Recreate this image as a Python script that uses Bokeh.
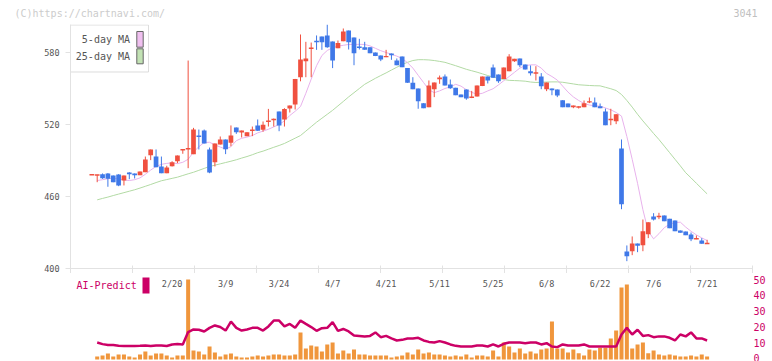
from bokeh.plotting import figure
from bokeh.models import Range1d, FixedTicker
from bokeh.layouts import column
from bokeh.core.properties import value
from bokeh.embed import file_html
from bokeh.resources import INLINE

NaN = float("nan")

# ---- daily data (one entry per trading day, oldest first) ----
open_ = [
    478.1, 477.8, 478.6, 479.2, 477.5, 478.3, 473.3, 480.0, 479.2, 477.8,
    480.3, 494.4, 493.3, 485.0, 479.4, 485.3, 489.4, 498.6, 499.4, 495.3,
    510.6, 515.0, 499.2, 488.6, 503.3, 507.5, 504.7, 517.5, 513.3, 510.3,
    514.7, 519.2, 515.6, 522.2, 523.9, 530.8, 524.2, 533.3, 536.7, 559.4,
    572.8, 583.3, 589.7, 593.3, 594.2, 589.2, 583.6, 589.4, 598.3, 592.5,
    585.0, 584.4, 584.4, 580.0, 577.5, 576.1, 579.2, 573.3, 576.7, 567.0,
    554.7, 550.0, 537.8, 534.4, 549.4, 557.8, 560.0, 553.3, 550.6, 545.0,
    549.2, 542.0, 543.3, 552.0, 560.0, 567.5, 561.7, 558.0, 564.4, 572.8,
    575.0, 570.0, 564.4, 562.2, 560.0, 549.4, 550.0, 549.2, 540.3, 537.5,
    534.4, 533.9, 534.4, 538.3, 538.3, 535.3, 530.8, 523.9, 522.8, 500.0,
    414.2, 414.4, 420.8, 419.4, 428.6, 443.3, 442.8, 444.2, 441.4, 440.0,
    431.7, 430.8, 428.3, 424.4, 423.3, 420.6,
]
high = [
    478.1, 478.1, 479.2, 479.5, 477.5, 478.6, 477.5, 480.3, 479.2, 480.8,
    493.3, 499.2, 499.2, 493.3, 485.6, 489.4, 494.2, 499.4, 573.3, 517.2,
    515.8, 515.8, 500.8, 504.2, 510.0, 507.5, 519.2, 517.5, 515.0, 513.6,
    518.3, 524.2, 522.5, 533.0, 525.0, 530.8, 533.6, 535.8, 558.0, 595.0,
    588.9, 588.3, 594.2, 593.3, 603.3, 589.2, 590.0, 600.0, 598.3, 592.5,
    591.4, 588.9, 584.4, 580.0, 577.5, 582.2, 579.2, 575.0, 576.7, 567.0,
    559.4, 550.0, 537.8, 556.7, 555.0, 560.8, 561.7, 557.5, 550.6, 545.0,
    549.2, 548.0, 552.5, 560.0, 560.0, 570.0, 561.7, 567.5, 578.6, 574.7,
    575.0, 570.0, 569.2, 568.6, 562.8, 555.0, 550.0, 549.2, 540.3, 537.5,
    535.8, 535.3, 540.0, 542.5, 542.5, 537.5, 533.3, 533.1, 528.6, 507.5,
    419.2, 426.7, 420.8, 440.8, 438.6, 446.1, 446.4, 444.2, 441.4, 440.0,
    431.7, 430.8, 430.0, 427.5, 425.3, 423.9,
]
low = [
    478.1, 471.9, 474.7, 468.1, 471.9, 468.6, 469.2, 474.4, 475.0, 477.8,
    480.3, 490.3, 484.4, 479.4, 479.4, 485.0, 487.8, 495.6, 483.6, 495.3,
    499.2, 504.2, 479.4, 485.0, 503.3, 495.3, 501.9, 512.2, 509.2, 510.3,
    510.3, 514.7, 514.0, 518.3, 518.3, 514.4, 518.3, 530.0, 532.5, 556.0,
    559.4, 559.4, 582.2, 582.2, 583.9, 567.0, 583.6, 589.4, 582.5, 569.4,
    582.5, 582.2, 579.4, 577.0, 572.8, 576.1, 573.9, 569.4, 567.8, 554.7,
    549.4, 533.1, 533.6, 534.4, 542.8, 553.9, 552.5, 549.7, 544.4, 542.8,
    540.6, 542.0, 543.3, 552.0, 554.2, 558.9, 554.7, 558.0, 564.4, 572.2,
    567.8, 565.8, 560.8, 556.7, 549.4, 547.8, 544.4, 542.8, 534.4, 534.4,
    533.6, 533.3, 534.4, 537.8, 534.4, 533.6, 519.4, 519.4, 520.3, 449.4,
    406.1, 411.1, 413.6, 414.4, 425.3, 440.0, 441.1, 439.4, 433.6, 431.1,
    429.7, 427.8, 422.8, 424.4, 420.6, 420.6,
]
close = [
    478.1, 478.1, 475.3, 474.7, 471.9, 469.2, 477.5, 478.6, 477.8, 480.8,
    490.8, 499.2, 484.4, 479.4, 484.2, 488.6, 494.2, 499.4, 500.3, 515.8,
    509.7, 504.2, 480.0, 504.2, 507.5, 499.4, 510.8, 513.6, 515.0, 513.6,
    515.8, 514.7, 519.7, 523.3, 524.4, 519.2, 533.0, 535.8, 558.0, 574.2,
    575.0, 583.9, 588.6, 588.6, 584.4, 573.3, 588.0, 597.5, 588.6, 579.4,
    583.9, 582.2, 579.4, 577.0, 574.2, 577.0, 577.8, 569.4, 567.8, 554.7,
    549.4, 539.4, 533.6, 552.5, 555.0, 559.2, 552.5, 550.3, 544.4, 542.8,
    541.7, 543.3, 552.5, 560.0, 556.7, 558.9, 556.1, 567.5, 576.7, 574.7,
    569.4, 565.8, 562.8, 563.6, 551.9, 555.0, 548.6, 544.2, 534.4, 534.4,
    535.8, 535.3, 537.8, 539.4, 534.4, 533.6, 519.4, 524.4, 528.6, 453.6,
    410.3, 420.8, 418.9, 431.1, 438.6, 440.8, 443.9, 439.4, 433.6, 431.1,
    429.7, 427.8, 424.4, 425.3, 420.6, 421.1,
]
ma5 = [
    NaN, 473.3, 474.0, 474.8, 475.3, 474.6, 473.8, 473.3, 474.0, 475.5,
    478.5, 482.0, 485.0, 486.8, 487.6, 488.0, 487.4, 488.5, 491.0, 497.0,
    501.5, 505.0, 505.2, 503.0, 501.2, 499.5, 501.5, 506.5, 508.5, 509.5,
    510.8, 513.0, 514.5, 516.0, 518.0, 520.0, 523.0, 527.5, 531.0, 535.0,
    546.0, 557.8, 569.0, 577.5, 581.7, 584.0, 585.3, 586.0, 586.7, 586.7,
    586.8, 586.7, 585.5, 583.5, 581.5, 580.0, 578.5, 577.0, 575.0, 571.5,
    567.0, 561.0, 555.0, 549.0, 546.5, 548.0, 550.0, 551.3, 553.5, 552.0,
    549.0, 546.8, 545.2, 546.0, 548.0, 549.8, 553.0, 556.5, 560.0, 563.5,
    567.0, 569.0, 569.7, 569.7, 567.0, 562.5, 560.0, 557.0, 552.0, 547.0,
    543.0, 540.0, 537.5, 536.2, 535.6, 535.3, 533.8, 532.2, 530.0, 527.0,
    510.0, 491.0, 471.0, 449.0, 431.0, 424.7, 429.0, 434.0, 437.0, 438.2,
    438.6, 434.5, 431.0, 428.0, 425.5, 423.3,
]
ma25 = [
    NaN, 457.2, 458.4, 459.5, 460.8, 462.0, 463.2, 464.4, 465.6, 467.0,
    468.5, 470.0, 471.6, 473.1, 474.1, 475.1, 476.1, 477.5, 478.9, 480.2,
    481.8, 483.4, 485.0, 486.1, 487.2, 488.3, 489.4, 490.6, 492.0, 493.3,
    494.8, 496.5, 497.8, 499.4, 501.0, 502.5, 504.2, 506.4, 508.6, 510.8,
    514.5, 518.2, 521.9, 525.2, 528.5, 531.8, 535.5, 539.2, 543.0, 546.5,
    550.0, 553.5, 556.0, 558.5, 560.8, 563.0, 565.4, 567.7, 570.0, 571.8,
    573.3, 574.0, 574.0, 573.8, 573.3, 572.6, 571.8, 570.4, 569.0, 567.5,
    566.0, 564.8, 563.6, 562.2, 560.8, 559.5, 558.5, 557.5, 556.8, 556.6,
    556.4, 556.1, 555.4, 555.0, 555.2, 555.4, 555.5, 555.5, 555.2, 554.5,
    553.8, 553.1, 552.8, 552.5, 552.3, 552.2, 551.0, 549.8, 548.3, 545.0,
    540.0, 534.5, 528.5, 523.0, 517.8, 512.5, 507.5, 502.0, 496.5, 491.0,
    485.5, 479.8, 475.5, 471.0, 466.6, 462.2,
]
volume = [
    0, 9, 12, 18, 9, 15, 15, 9, 6, 15,
    24, 12, 18, 18, 12, 6, 12, 12, 240, 27,
    24, 15, 39, 21, 9, 15, 18, 9, 6, 6,
    9, 12, 9, 12, 15, 15, 12, 12, 15, 81,
    33, 42, 39, 24, 45, 51, 18, 27, 18, 30,
    15, 15, 12, 12, 12, 12, 6, 9, 12, 21,
    15, 30, 18, 21, 15, 15, 12, 9, 12, 9,
    15, 6, 12, 12, 9, 27, 9, 51, 39, 21,
    33, 18, 24, 18, 30, 33, 114, 33, 33, 21,
    30, 19, 12, 30, 27, 35, 35, 63, 87, 216,
    225, 33, 45, 51, 19, 27, 15, 12, 15, 12,
    9, 9, 12, 9, 15, 9,
]
ai_predict = [
    NaN, 10.1, 9.1, 8.6, 8.5, 8.0, 7.9, 7.9, 7.9, 8.0,
    8.2, 7.9, 8.2, 8.2, 7.9, 8.9, 9.1, 8.9, 16.7, 18.4,
    18.2, 17.1, 19.4, 20.9, 19.9, 17.7, 23.4, 19.4, 17.7, 18.4,
    19.4, 19.4, 17.7, 20.3, 24.0, 24.0, 20.3, 21.9, 19.4, 24.0,
    21.9, 19.9, 17.5, 19.2, 19.4, 23.0, 17.5, 18.7, 17.1, 14.6,
    14.3, 14.0, 14.3, 16.5, 13.5, 14.3, 12.7, 11.4, 11.8, 12.7,
    12.7, 13.1, 11.4, 10.5, 10.1, 11.0, 10.1, 8.9, 8.0, 7.6,
    7.6, 7.6, 8.2, 8.2, 7.6, 8.9, 7.6, 9.3, 10.1, 10.1,
    10.1, 9.7, 10.1, 10.1, 8.9, 9.7, 7.6, 7.2, 8.9, 8.2,
    8.2, 8.2, 8.9, 7.6, 7.6, 7.6, 7.6, 7.6, 7.6, 15.2,
    19.4, 15.2, 18.2, 14.3, 14.8, 13.5, 14.0, 14.0, 13.1, 11.4,
    15.2, 14.0, 16.5, 12.7, 12.7, 11.4,
]
date_labels = ["2/20", "3/9", "3/24", "4/7", "4/21", "5/11",
               "5/25", "6/8", "6/22", "7/6", "7/21"]
date_label_days = [15, 25, 35, 45, 55, 65, 75, 85, 95, 105, 115]
price_ticks = [400, 460, 520, 580]
ai_ticks = [0, 10, 20, 30, 40, 50]

days = list(range(len(close)))

# ---- styling ----
MONO = "DejaVu Sans Mono"
UP, DOWN = "#f0503f", "#3f78e8"
MA5_COLOR, MA25_COLOR = "#e8b2ec", "#b2daa4"
VOL_COLOR, AI_COLOR = "#f0963c", "#cc0066"
AXIS_COLOR = "#e2e2e2"

# ---- geometry (screen pixels) ----
WIDTH = 772
HEADER_PX = 24
LEFT_PX, RIGHT_PX = 70, 752
TOP_PX, BASE_PX = 24, 268
PX_PER_DAY = 5.35
PX_PER_YEN = 1.2
FIRST_DAY_PX = 91.35
x_start = (LEFT_PX - FIRST_DAY_PX) / PX_PER_DAY
x_end = (RIGHT_PX - FIRST_DAY_PX) / PX_PER_DAY
y_low = 400.0
y_high = y_low + (BASE_PX - TOP_PX) / PX_PER_YEN


def sx(px):
    return x_start + (px - LEFT_PX) / PX_PER_DAY


def sy(py):
    return y_low + (BASE_PX - py) / PX_PER_YEN


# lower panel: AI-Predict scale (right axis) and volume scale
LOW_TOP_PX, LOW_BOTTOM_PX = 273, 361
AI_ZERO_PX, AI_PX_PER_UNIT = 358, 1.58
VOL_ZERO_PX, VOL_PER_PX = 359, 3.0


def ay(py):
    return (AI_ZERO_PX - py) / AI_PX_PER_UNIT


def bare(fig):
    fig.grid.visible = False
    fig.outline_line_color = None
    fig.background_fill_color = "white"
    fig.border_fill_color = "white"


# ---- header strip: copyright and stock code (full-width frame) ----
head = figure(width=WIDTH, height=HEADER_PX,
              x_range=Range1d(0, WIDTH), y_range=Range1d(HEADER_PX, 0),
              x_axis_location=None, y_axis_location=None,
              output_backend="svg", toolbar_location=None,
              min_border_left=0, min_border_right=0,
              min_border_top=0, min_border_bottom=0)
bare(head)
head.frame_align = False
head.text(x=[14], y=[12.5], text=["(C)https://chartnavi.com/"],
          text_align="left", text_baseline="middle",
          text_font=value(MONO), text_font_size="10px", text_color="#cccccc")
head.text(x=[757], y=[12.5], text=["3041"],
          text_align="right", text_baseline="middle",
          text_font=value(MONO), text_font_size="10px", text_color="#c0c0c0")

# ---- candle geometry ----
up = [c >= o for o, c in zip(open_, close)]
colors = [UP if u else DOWN for u in up]
body_top, body_bot = [], []
for o, c in zip(open_, close):
    t, b = max(o, c), min(o, c)
    if t - b < 1.2:
        m = (t + b) / 2
        t, b = m + 0.6, m - 0.6
    body_top.append(t)
    body_bot.append(b)

p = figure(width=WIDTH, height=273 - HEADER_PX,
           x_range=Range1d(x_start, x_end), y_range=Range1d(y_low - 0.01, y_high),
           output_backend="svg", toolbar_location=None,
           min_border_left=LEFT_PX, min_border_right=WIDTH - RIGHT_PX,
           min_border_top=0, min_border_bottom=0)
bare(p)

xa = p.xaxis[0]
step = (x_end - x_start) / 11
xa.ticker = FixedTicker(ticks=[x_start + 1e-6]
                        + [x_start + k * step for k in range(1, 11)]
                        + [x_end - 1e-6])
xa.major_label_text_font_size = "0px"
xa.major_label_text_color = None
xa.major_label_standoff = 0
xa.major_tick_in = 3
xa.major_tick_out = 5
xa.axis_line_color = AXIS_COLOR
xa.major_tick_line_color = AXIS_COLOR
xa.minor_tick_line_color = None

ya = p.yaxis[0]
ya.ticker = FixedTicker(ticks=price_ticks)
ya.major_tick_in = 0
ya.major_tick_out = 5
ya.major_label_standoff = 6
ya.axis_line_color = AXIS_COLOR
ya.major_tick_line_color = AXIS_COLOR
ya.minor_tick_line_color = None
ya.major_label_text_font = MONO
ya.major_label_text_font_size = "8.5px"
ya.major_label_text_color = "#555555"

# moving averages
p.line(days, ma25, color=MA25_COLOR, line_width=1)
p.line(days, ma5, color=MA5_COLOR, line_width=1)

# candlesticks
p.segment(x0=days, y0=high, x1=days, y1=low, color=colors, line_width=1)
p.vbar(x=days, width=0.88, top=body_top, bottom=body_bot,
       fill_color=colors, line_color=None)

# legend box
p.quad(left=[sx(70)], right=[sx(148)], top=[sy(24.5)], bottom=[sy(71.5)],
       fill_color="white", line_color="#dddddd", line_width=1)
p.text(x=[sx(129.5), sx(129.5)], y=[sy(39), sy(56.5)],
       text=["5-day MA", "25-day MA"], text_align="right", text_baseline="middle",
       text_font=value(MONO), text_font_size="10px", text_color="#555555")
p.quad(left=[sx(136.3)] * 2, right=[sx(142.7)] * 2,
       top=[sy(31), sy(48.3)], bottom=[sy(46.7), sy(63.3)],
       fill_color=["#f0c0f0", "#c2e2b4"], line_color="#666666", line_width=1)

# ---- lower panel: volume and AI-Predict ----
ai_low = ay(LOW_BOTTOM_PX)
ai_high = ay(LOW_TOP_PX)
vol_low = (VOL_ZERO_PX - LOW_BOTTOM_PX) * VOL_PER_PX
vol_high = (VOL_ZERO_PX - LOW_TOP_PX) * VOL_PER_PX

p2 = figure(width=WIDTH, height=LOW_BOTTOM_PX - LOW_TOP_PX,
            x_range=p.x_range, y_range=Range1d(ai_low, ai_high),
            x_axis_location=None, y_axis_location="right",
            output_backend="svg", toolbar_location=None,
            min_border_left=LEFT_PX, min_border_right=WIDTH - RIGHT_PX,
            min_border_top=0, min_border_bottom=0)
bare(p2)
p2.extra_y_ranges = {"vol": Range1d(vol_low, vol_high)}

ra = p2.yaxis[0]
ra.ticker = FixedTicker(ticks=ai_ticks)
ra.axis_line_color = None
ra.major_tick_line_color = None
ra.minor_tick_line_color = None
ra.major_tick_out = 0
ra.major_tick_in = 0
ra.major_label_standoff = 1
ra.major_label_text_font = MONO
ra.major_label_text_font_size = "10px"
ra.major_label_text_color = AI_COLOR

p2.vbar(x=days, width=0.75, top=volume, bottom=0, y_range_name="vol",
        fill_color=VOL_COLOR, line_color=None)
p2.line(days, ai_predict, color=AI_COLOR, line_width=2.5)

p2.text(x=date_label_days, y=[ay(283)] * len(date_labels), text=date_labels,
        text_align="center", text_baseline="middle",
        text_font=value(MONO), text_font_size="8.5px", text_color="#555555")

p2.text(x=[sx(76)], y=[ay(285)], text=["AI-Predict"], text_baseline="middle",
        text_font=value(MONO), text_font_size="10px", text_color=AI_COLOR)
p2.quad(left=[sx(142)], right=[sx(149)], top=[ay(277)], bottom=[ay(293)],
        fill_color=AI_COLOR, line_color=None)

layout = column(head, p, p2)
open("out.html", "w").write(file_html(layout, INLINE))
